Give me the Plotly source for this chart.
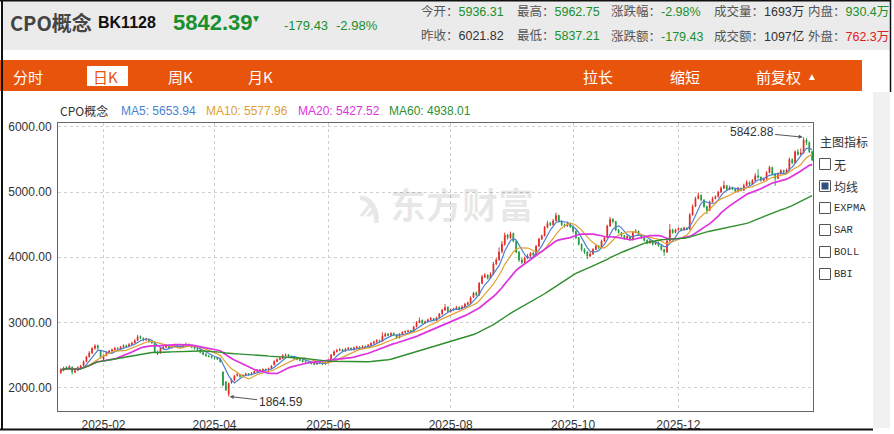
import pandas as pd
import plotly.graph_objects as go

# ---------------- data ----------------
title_name = "CPO概念"
code = "BK1128"
last_price = "5842.39"
chg = "-179.43"
chg_pct = "-2.98%"

open_ = [
 2230,2265,2310,2285,2315,2235,2265,2300,2335,2400,2475,2530,2605,2645,2560,
 2440,2495,2535,2560,2580,2605,2590,2620,2645,2630,2660,2685,2725,2785,2755,2730,2735,2715,
 2680,2530,2530,2600,2620,2645,2610,2635,2655,2640,2615,2650,2665,2640,2620,2600,2580,2540,2510,2485,2480,
 2455,2450,2440,2240,2090,1900,2080,2115,2185,2200,2170,2190,2215,2200,2220,2250,2275,2260,2285,2270,2290,
 2350,2400,2430,2450,2490,2505,2480,2470,2450,2435,2420,2400,2390,2380,2370,2360,2385,2370,2360,
 2385,2425,2500,2550,2570,2585,2560,2590,2605,2580,2610,2625,2600,2635,2620,2650,2680,2700,2725,2710,
 2790,2825,2800,2835,2810,2765,2820,2850,2860,2875,2860,2935,3000,3035,2990,3010,3045,3060,3030,3075,3130,3190,3235,
 3165,3190,3200,3235,3210,3240,3280,3300,3385,3455,3420,3600,3700,3725,3680,3740,3900,3960,4090,4200,4345,
 4300,4365,4245,4080,3960,3920,3990,4020,4065,4040,4170,4280,4330,4460,4525,4500,4560,4640,4550,4500,4480,4520,
 4470,4400,4300,4200,4120,4080,4020,4050,4120,4175,4150,4250,4300,4480,4585,4550,4420,
 4380,4330,4290,4320,4270,4380,4400,4350,4300,4260,4220,4250,4200,4230,4180,4120,4080,4250,4420,4380,
 4420,4440,4420,4450,4430,4650,4780,4900,4950,4880,4780,4720,4850,4900,4930,5000,5060,5100,5040,5070,5050,5010,5060,
 5030,5100,5150,5120,5180,5250,5230,5180,5200,5300,5380,5280,5210,5280,5330,5300,5340,5500,5450,5620,
 5580,5600,5800,5760,5620,
]
high = [
 2295,2320,2330,2345,2325,2280,2325,2350,2415,2490,2560,2620,2665,2660,2570,
 2510,2550,2580,2600,2625,2620,2640,2665,2660,2685,2705,2745,2810,2800,2770,2765,2745,2730,
 2690,2570,2615,2640,2660,2655,2650,2675,2670,2650,2665,2690,2675,2655,2630,2615,2590,2555,2530,2505,2490,
 2475,2465,2450,2245,2095,2080,2140,2195,2225,2210,2205,2230,2225,2240,2265,2285,2285,2295,2290,2305,2345,
 2420,2450,2470,2515,2525,2515,2495,2480,2465,2445,2430,2415,2400,2395,2380,2395,2395,2380,2395,
 2435,2515,2570,2595,2605,2595,2610,2625,2615,2630,2645,2635,2650,2645,2670,2700,2720,2745,2735,2848,
 2845,2835,2850,2845,2820,2835,2865,2880,2890,2885,2950,3020,3078,3045,3030,3060,3085,3070,3090,3145,3210,3282,3245,
 3215,3225,3255,3245,3265,3300,3320,3400,3470,3475,3620,3730,3760,3740,3770,3930,3990,4151,4250,4380,4360,
 4395,4380,4260,4100,3990,4010,4050,4080,4080,4190,4300,4350,4480,4560,4545,4590,4687,4655,4570,4520,4545,4540,
 4480,4410,4310,4215,4140,4095,4080,4140,4195,4190,4270,4320,4500,4620,4600,4560,4435,
 4390,4345,4340,4330,4400,4432,4410,4360,4315,4275,4270,4260,4250,4240,4190,4130,4270,4509,4440,4440,
 4460,4455,4470,4460,4680,4810,4930,4995,4965,4890,4790,4870,4930,4950,5020,5090,5174,5110,5100,5085,5060,5080,5070,
 5130,5180,5165,5200,5290,5353,5240,5220,5320,5404,5390,5290,5300,5350,5345,5360,5531,5520,5640,5660,
 5670,5842.88,5830,5780,5640,
]
low = [
 2210,2250,2270,2275,2200,2220,2255,2290,2325,2390,2460,2520,2580,2580,2440,
 2410,2480,2520,2545,2565,2570,2580,2605,2610,2620,2650,2675,2715,2740,2710,2715,2690,2670,
 2530,2500,2520,2585,2605,2595,2600,2620,2625,2600,2605,2640,2625,2605,2585,2565,2525,2495,2475,2465,2445,
 2430,2425,2385,2020,1950,1864.59,2060,2100,2170,2150,2155,2180,2180,2190,2210,2240,2245,2250,2255,2260,2280,
 2340,2390,2420,2440,2475,2465,2455,2435,2420,2405,2385,2375,2365,2355,2345,2350,2360,2345,2350,
 2375,2415,2490,2540,2560,2545,2550,2580,2570,2570,2600,2590,2590,2605,2610,2640,2670,2690,2690,2700,
 2780,2785,2790,2795,2745,2755,2810,2840,2850,2845,2850,2925,2990,2975,2980,3000,3035,3015,3020,3065,3120,3180,3155,
 3150,3175,3190,3195,3200,3230,3265,3290,3375,3400,3410,3590,3680,3660,3670,3730,3880,3950,4060,4176,4270,
 4280,4230,4060,3930,3895,3905,3970,4000,4020,4030,4160,4265,4320,4445,4480,4490,4550,4530,4480,4455,4470,4450,
 4380,4280,4180,4090,4050,3972,4000,4040,4110,4125,4140,4240,4290,4470,4520,4400,4360,
 4310,4270,4280,4250,4260,4370,4330,4280,4240,4200,4210,4180,4190,4160,4100,4024,4070,4240,4360,4370,
 4410,4400,4410,4415,4420,4640,4770,4890,4860,4760,4663,4710,4840,4890,4920,4990,5050,5020,5030,5030,4990,5000,5010,
 5020,5090,5100,5110,5170,5210,5160,5170,5190,5290,5260,5097,5200,5270,5285,5290,5330,5430,5440,5560,
 5570,5590,5720,5600,5480,
]
close = [
 2270,2300,2290,2320,2240,2260,2310,2330,2400,2470,2530,2600,2640,2610,2470,
 2490,2530,2560,2580,2600,2590,2620,2640,2630,2660,2680,2720,2780,2760,2730,2740,2720,2690,
 2540,2520,2600,2620,2640,2610,2630,2650,2640,2620,2650,2660,2640,2620,2600,2580,2540,2510,2490,2480,2460,
 2450,2440,2400,2040,1960,2060,2120,2180,2200,2170,2190,2210,2200,2220,2250,2270,2260,2280,2270,2290,2330,
 2400,2430,2450,2490,2500,2480,2470,2450,2430,2420,2400,2390,2380,2370,2360,2380,2370,2360,2380,
 2420,2500,2550,2570,2580,2560,2590,2600,2580,2610,2620,2600,2630,2620,2650,2680,2700,2720,2710,2790,
 2820,2800,2830,2810,2760,2820,2850,2860,2870,2860,2930,3000,3030,2990,3010,3040,3060,3030,3070,3130,3190,3230,3170,
 3190,3200,3230,3210,3240,3280,3300,3380,3450,3420,3600,3700,3720,3680,3740,3900,3960,4080,4200,4340,4300,
 4360,4250,4080,3960,3920,3990,4020,4060,4040,4170,4280,4330,4460,4520,4500,4560,4640,4550,4500,4480,4520,4470,
 4400,4300,4200,4120,4080,4020,4050,4120,4170,4150,4250,4300,4480,4580,4550,4420,4380,
 4330,4290,4320,4270,4380,4400,4350,4300,4260,4220,4250,4200,4230,4180,4120,4080,4250,4420,4380,4420,
 4440,4420,4450,4430,4650,4780,4900,4950,4880,4780,4720,4850,4900,4930,5000,5060,5100,5040,5070,5050,5010,5060,5030,
 5100,5150,5120,5180,5250,5230,5180,5200,5300,5380,5280,5210,5280,5330,5300,5340,5500,5450,5620,5580,
 5600,5800,5760,5620,5490,
]

holidays = ["2025-01-28", "2025-01-29", "2025-01-30", "2025-01-31", "2025-02-03", "2025-02-04",
            "2025-04-04", "2025-05-01", "2025-05-02", "2025-05-05", "2025-06-02",
            "2025-10-01", "2025-10-02", "2025-10-03", "2025-10-06", "2025-10-07", "2025-10-08",
            "2026-01-01", "2026-01-02"]
tick_labels = ["2025-02", "2025-04", "2025-06", "2025-08", "2025-10", "2025-12"]
y_ticks = [2000, 3000, 4000, 5000, 6000]

ma_periods = [5, 10, 20, 60]
ma_colors = ["#4d7fd0", "#e0a030", "#e033e0", "#2f8f2f"]
ma_widths = [1.2, 1.2, 1.7, 1.4]
ma_legend_vals = ["5653.94", "5577.96", "5427.52", "4938.01"]

quote_row1 = [("今开", "5936.31", "#1a8f2e"), ("最高", "5962.75", "#1a8f2e"), ("涨跌幅", "-2.98%", "#1a8f2e"),
              ("成交量", "1693万", "#333333"), ("内盘", "930.4万", "#1a8f2e")]
quote_row2 = [("昨收", "6021.82", "#333333"), ("最低", "5837.21", "#1a8f2e"), ("涨跌额", "-179.43", "#1a8f2e"),
              ("成交额", "1097亿", "#333333"), ("外盘", "762.3万", "#e02020")]
indicators = ["无", "均线", "EXPMA", "SAR", "BOLL", "BBI"]
checked = "均线"

# ---------------- build ----------------
N = len(close)
all_days = pd.bdate_range("2025-01-07", "2026-04-30")
dates = [d.strftime("%Y-%m-%d") for d in all_days if d.strftime("%Y-%m-%d") not in holidays][:N]
tick_vals = []
for lab in tick_labels:
    tick_vals.append(next(d for d in dates if d.startswith(lab)))

s = pd.Series(close, dtype=float)

UP = "#e0251e"
DN = "#1c9a36"
SANS = "Liberation Sans, Noto Sans CJK SC, sans-serif"
CJK = "Noto Sans CJK SC, Liberation Sans, sans-serif"

fig = go.Figure()
fig.add_trace(go.Candlestick(
    x=dates, open=open_, high=high, low=low, close=close,
    increasing=dict(line=dict(color=UP, width=0.9), fillcolor=UP),
    decreasing=dict(line=dict(color=DN, width=0.9), fillcolor=DN),
    whiskerwidth=0, showlegend=False, hoverinfo="skip"))
for p, c, w in zip(ma_periods, ma_colors, ma_widths):
    fig.add_trace(go.Scatter(x=dates, y=s.rolling(p, min_periods=1).mean(), mode="lines",
                             line=dict(color=c, width=w), showlegend=False, hoverinfo="skip"))

W, H = 894, 434
L, R, T, B = 58, 813, 123, 411


def PX(x):
    return (x - L) / (R - L)


def PY(y):
    return (B - y) / (B - T)


shapes = []
annots = []


def rect(x0, y0, x1, y1, fill=None, line=None, lw=1, layer="below"):
    shapes.append(dict(type="rect", xref="paper", yref="paper", x0=PX(x0), x1=PX(x1), y0=PY(y1), y1=PY(y0),
                       fillcolor=fill if fill else "rgba(0,0,0,0)",
                       line=dict(color=line if line else "rgba(0,0,0,0)", width=lw if line else 0), layer=layer))


def line(x0, y0, x1, y1, color, lw=1):
    shapes.append(dict(type="line", xref="paper", yref="paper", x0=PX(x0), x1=PX(x1), y0=PY(y0), y1=PY(y1),
                       line=dict(color=color, width=lw), layer="above"))


def txt(x, y, s_, size, color, family=SANS, anchor="left", bold=False):
    if bold:
        s_ = "<b>" + s_ + "</b>"
    annots.append(dict(xref="paper", yref="paper", x=PX(x), y=PY(y), text=s_, showarrow=False,
                       xanchor=anchor, yanchor="middle", font=dict(size=size, color=color, family=family),
                       borderpad=0))


# header background
rect(2, 1, 890, 50, fill="#ebebeb")
# orange tab bar
rect(0, 60, 862, 91, fill="#e8540c")
# right gray strip
rect(873, 92, 890, 428, fill="#f1f1f1")
# outer frame
line(2, 0.5, 2, 429.5, "#111111", 2)
line(0, 0.5, 891, 0.5, "#111111", 2)
line(890.5, 0, 890.5, 92, "#111111", 1.5)
line(0, 429.5, 873, 429.5, "#111111", 2)

# header texts
txt(9, 22, title_name, 20, "#444444", CJK, bold=True)
txt(97, 23, code, 16, "#111111", SANS, bold=True)
txt(172, 22, last_price, 22, "#1a8f2e", SANS, bold=True)
txt(250, 18, "▼", 10, "#1a8f2e", SANS)
txt(283, 25, chg, 13, "#1a8f2e", SANS)
txt(335, 25, chg_pct, 13, "#1a8f2e", SANS)

q_x = [420, 516, 610, 713, 807]
for row, yy in ((quote_row1, 11), (quote_row2, 36)):
    for (lab, val, col), xx in zip(row, q_x):
        txt(xx, yy, f"<span style='color:#555555'>{lab}：</span><span style='color:{col}'>{val}</span>",
            12.5, col, SANS)

# tab texts
txt(12, 76, "分时", 15, "white", CJK)
rect(87, 66, 128, 86, fill="white")
txt(92, 76, "日K", 15, "#e8540c", CJK)
txt(167, 76, "周K", 15, "white", CJK)
txt(247, 76, "月K", 15, "white", CJK)
txt(582, 76, "拉长", 15, "white", CJK)
txt(669, 76, "缩短", 15, "white", CJK)
txt(755, 76, "前复权", 15, "white", CJK)
txt(806, 77, "▲", 10, "white", SANS)

# MA legend
txt(59, 111, title_name, 12, "#333333", CJK)
leg_x = [120, 205, 297, 388]
for p, c, v, xx in zip(ma_periods, ma_colors, ma_legend_vals, leg_x):
    txt(xx, 111, f"MA{p}: {v}", 12, c, SANS)

# watermark
txt(462, 203, "东方财富", 36, "rgba(0,0,0,0.09)", CJK, anchor="center", bold=True)
txt(370, 203, "ϡ", 38, "rgba(0,0,0,0.09)", "DejaVu Sans", anchor="center", bold=True)

# indicator panel
txt(819, 141, "主图指标", 12, "#333333", CJK)
ind_y = [164, 186, 208, 230, 252, 274]
for name, yy in zip(indicators, ind_y):
    rect(819.5, yy - 5.5, 830.5, yy + 5.5, fill="white", line="#555555", lw=1, layer="above")
    if name == checked:
        rect(821.5, yy - 3.5, 828.5, yy + 3.5, fill="#2e4f80", layer="above")
    if all(ord(ch) < 128 for ch in name):
        txt(833, yy, name, 10.5, "#333333", "Liberation Mono, DejaVu Sans Mono, monospace")
    else:
        txt(833, yy, name, 12, "#333333", CJK)

# high / low markers
hi_i = max(range(N), key=lambda i: high[i])
lo_i = min(range(N), key=lambda i: low[i])
annots.append(dict(x=dates[hi_i], y=high[hi_i], xref="x", yref="y", text=f"{high[hi_i]:.2f}",
                   showarrow=True, arrowhead=2, arrowsize=0.8, arrowwidth=1, arrowcolor="#555555",
                   ax=-52, ay=-5, font=dict(size=12, color="#333333", family=SANS), standoff=1))
annots.append(dict(x=dates[lo_i], y=low[lo_i], xref="x", yref="y", text=f"{low[lo_i]:.2f}",
                   showarrow=True, arrowhead=2, arrowsize=0.8, arrowwidth=1, arrowcolor="#555555",
                   ax=52, ay=6, font=dict(size=12, color="#333333", family=SANS), standoff=1))

fig.update_layout(
    width=W, height=H, autosize=False,
    margin=dict(l=L, r=W - R, t=T, b=H - B, pad=0, autoexpand=False),
    paper_bgcolor="white", plot_bgcolor="white", boxgap=0.6,
    shapes=shapes, annotations=annots, showlegend=False, hovermode=False,
    xaxis=dict(type="category", range=[-0.98, N - 0.7], rangeslider=dict(visible=False),
               tickmode="array", tickvals=tick_vals, ticktext=tick_labels, automargin=False,
               showgrid=True, gridcolor="#cfcfcf", griddash="3px,3px", gridwidth=1,
               showline=True, linecolor="#666666", linewidth=1, mirror=True,
               ticks="", ticklabelstandoff=3,
               tickfont=dict(size=12, color="#333333", family=SANS), zeroline=False),
    yaxis=dict(range=[1641, 6061], tickmode="array", tickvals=y_ticks, automargin=False,
               ticktext=[f"{v:.2f}" for v in y_ticks],
               showgrid=True, gridcolor="#cfcfcf", griddash="3px,3px", gridwidth=1,
               showline=True, linecolor="#666666", linewidth=1, mirror=True,
               ticks="", ticklabelstandoff=3,
               tickfont=dict(size=12, color="#333333", family=SANS), zeroline=False),
)

fig.write_html("out.html", config={"displayModeBar": False, "staticPlot": True},
               post_script="document.body.style.margin='0';document.body.style.overflow='hidden';")
